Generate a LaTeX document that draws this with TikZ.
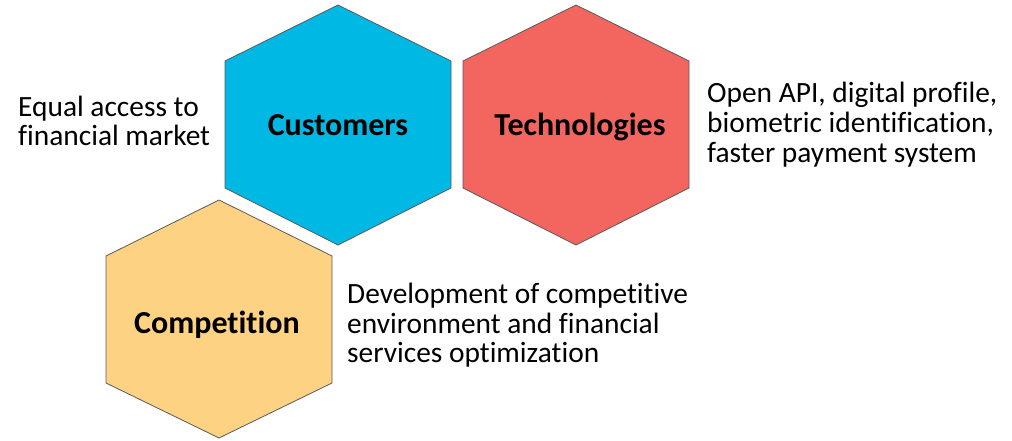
\documentclass[tikz,border=0pt]{standalone}
\usepackage{fontspec}
\setmainfont{Carlito}[Ligatures=CommonOff]
\definecolor{custcol}{HTML}{00B8E4}
\definecolor{techcol}{HTML}{F2665F}
\definecolor{compcol}{HTML}{FDD283}
\definecolor{edgecol}{HTML}{5A5A5A}
\tikzset{
  hexa/.style={draw=edgecol, line width=0.8pt, line join=miter},
  hexlabel/.style={font=\fontsize{32}{36}\selectfont\bfseries, inner sep=0pt},
  desc/.style={font=\fontsize{29.4}{30}\selectfont, align=left, inner sep=0pt, anchor=base west}
}
\begin{document}
\begin{tikzpicture}[x=1pt,y=-1pt]
\useasboundingbox (0,0) rectangle (1012,441);
% Customers hexagon
\path[hexa, fill=custcol] (338,5) -- (451,61) -- (451,188) -- (338,245) -- (225,188) -- (225,61) -- cycle;
% Technologies hexagon
\path[hexa, fill=techcol] (576,5) -- (689,61) -- (689,188) -- (576,245) -- (463,188) -- (463,61) -- cycle;
% Competition hexagon
\path[hexa, fill=compcol] (219,200) -- (332,256) -- (332,383) -- (219,438) -- (106,383) -- (106,256) -- cycle;
\node[hexlabel] (cust) at (338,125) {Customers};
\node[hexlabel] (tech) at (580,127) {Technologies};
\node[hexlabel] (comp) at (217,325) {Competition};
\node[desc] (d1a) at (18,117) {Equal access to};
\node[desc] (d1b) at (18,146) {financial market};
\node[desc] (d2a) at (707,103) {Open API, digital profile,};
\node[desc] (d2b) at (707,133) {biometric identification,};
\node[desc] (d2c) at (707,162) {faster payment system};
\node[desc] (d3a) at (347,303) {Development of competitive};
\node[desc] (d3b) at (347,333) {environment and financial};
\node[desc] (d3c) at (347,362) {services optimization};
\end{tikzpicture}
\end{document}
